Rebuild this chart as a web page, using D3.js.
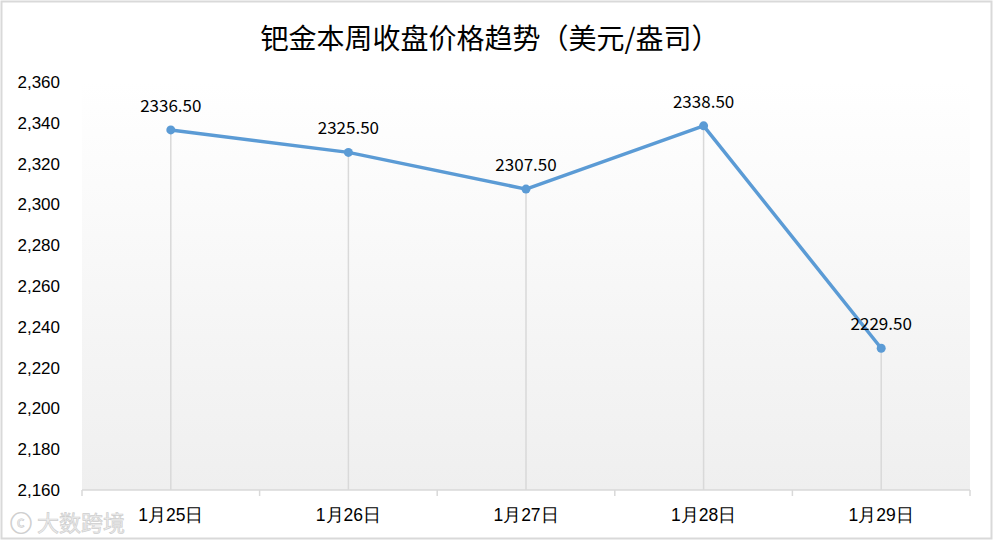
<!DOCTYPE html>
<html>
<meta charset="utf-8" />
<script src="https://cdn.jsdelivr.net/npm/d3@7/dist/d3.min.js"></script>
<style>
  html, body { margin: 0; padding: 0; background: #fff; }
  svg { display: block; font-family: "Noto Sans CJK SC", "Noto Sans", sans-serif; }
  .tick text { font-size: 17px; fill: #000; }
  .x-axis .tick text { font-size: 17.5px; }
</style>
<body>
<div id="chart"></div>
<script>
  var title = '钯金本周收盘价格趋势（美元/盎司）';
  var days = ['1月25日', '1月26日', '1月27日', '1月28日', '1月29日'];
  var prices = [2336.5, 2325.5, 2307.5, 2338.5, 2229.5];
  var yTicks = [2160, 2180, 2200, 2220, 2240, 2260, 2280, 2300, 2320, 2340, 2360];

  var W = 994, H = 542;
  var plot = { left: 82, right: 970, top: 82, bottom: 490 };

  var svg = d3.select('#chart').append('svg').attr('width', W).attr('height', H);

  var defs = svg.append('defs');
  var grad = defs.append('linearGradient').attr('id', 'bg')
    .attr('x1', 0).attr('y1', 0).attr('x2', 0).attr('y2', 1);
  grad.append('stop').attr('offset', '0%').attr('stop-color', '#ffffff');
  grad.append('stop').attr('offset', '100%').attr('stop-color', '#efefef');

  // outer border
  svg.append('rect').attr('x', 1.5).attr('y', 1.5).attr('width', W - 4).attr('height', H - 5)
    .attr('fill', '#fff').attr('stroke', '#d9d9d9').attr('stroke-width', 2);

  var x = d3.scaleBand().domain(days).range([plot.left, plot.right]);
  var y = d3.scaleLinear().domain([2160, 2360]).range([plot.bottom, plot.top]);

  svg.append('rect').attr('x', plot.left).attr('y', plot.top)
    .attr('width', plot.right - plot.left).attr('height', plot.bottom - plot.top)
    .attr('fill', 'url(#bg)');

  svg.append('text').attr('x', 490).attr('y', 49).attr('text-anchor', 'middle')
    .style('font-size', '28px').attr('fill', '#000').text(title);

  // y axis labels only
  svg.append('g').attr('transform', 'translate(' + (plot.left - 22) + ',0)')
    .call(d3.axisLeft(y).tickValues(yTicks).tickSize(0).tickPadding(0).tickFormat(d3.format(',')))
    .call(function (g) { g.select('.domain').remove(); });

  // x axis
  var xAxis = svg.append('g').attr('class', 'x-axis').attr('transform', 'translate(0,' + plot.bottom + ')');
  xAxis.call(d3.axisBottom(x).tickSize(0).tickPadding(19))
    .call(function (g) { g.select('.domain').remove(); });
  xAxis.append('line').attr('x1', plot.left).attr('x2', plot.right)
    .attr('stroke', '#d9d9d9').attr('stroke-width', 1.5);
  var bounds = days.map(function (d) { return x(d); }).concat([plot.right]);
  xAxis.selectAll('line.bt').data(bounds).enter().append('line').attr('class', 'bt')
    .attr('x1', function (d) { return d; }).attr('x2', function (d) { return d; })
    .attr('y1', 0).attr('y2', 6).attr('stroke', '#d9d9d9').attr('stroke-width', 1.5);

  var cx = function (d, i) { return x(days[i]) + x.bandwidth() / 2; };

  // drop lines
  svg.selectAll('line.drop').data(prices).enter().append('line').attr('class', 'drop')
    .attr('x1', cx).attr('x2', cx)
    .attr('y1', function (d) { return y(d); }).attr('y2', plot.bottom)
    .attr('stroke', '#d9d9d9').attr('stroke-width', 1.5);

  var line = d3.line().x(cx).y(function (d) { return y(d); });
  svg.append('path').datum(prices).attr('d', line)
    .attr('fill', 'none').attr('stroke', '#5b9bd5').attr('stroke-width', 3.5)
    .attr('stroke-linejoin', 'round');

  svg.selectAll('circle.pt').data(prices).enter().append('circle').attr('class', 'pt')
    .attr('cx', cx).attr('cy', function (d) { return y(d); }).attr('r', 4.5)
    .attr('fill', '#5b9bd5');

  svg.selectAll('text.lbl').data(prices).enter().append('text').attr('class', 'lbl')
    .attr('x', cx).attr('y', function (d) { return y(d) - 18; })
    .attr('text-anchor', 'middle').style('font-size', '17px').attr('fill', '#000')
    .text(function (d) { return d.toFixed(2); });

  // watermark
  svg.append('text').attr('x', 10).attr('y', 531).style('font-size', '22px')
    .attr('fill', '#eeeeee').attr('stroke', '#cfcfcf').attr('stroke-width', 0.7)
    .text('\u24D2 大数跨境');
</script>
</body>
</html>
